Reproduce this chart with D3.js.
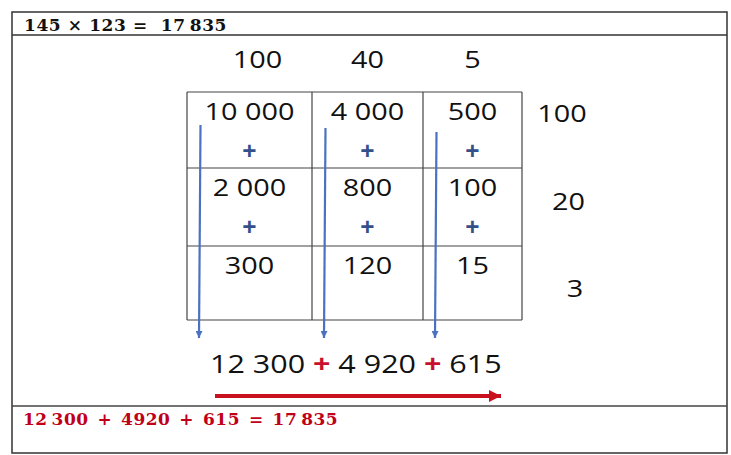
<!DOCTYPE html>
<html>
<head>
<meta charset="utf-8">
<title>145 x 123</title>
<script src="https://d3js.org/d3.v7.min.js"></script>
<style>
  body { margin: 0; background: #fff; }
</style>
</head>
<body>
<svg width="731" height="455"></svg>
<script>
// values
const colFactors = [100, 40, 5];
const rowFactors = [100, 20, 3];
const partials = [
  [10000, 4000, 500],
  [2000, 800, 100],
  [300, 120, 15]
];
const columnSums = [12300, 4920, 615];
const headerText = "145 \u00d7 123 =  17\u2009835";
const footerText = "12\u2009300 + 4920 + 615 = 17\u2009835";

const svg = d3.select("svg");

// numbers with a space as thousands separator
const fmt = d3.formatLocale({decimal: ",", thousands: "\u00a0", grouping: [3], currency: ["", ""]}).format(",d");

// grid edges (piecewise linear scales)
const x = d3.scaleLinear().domain([0, 1, 2, 3]).range([187, 312, 423, 522]);
const y = d3.scaleLinear().domain([0, 1, 2, 3]).range([92, 168, 246, 320]);
// row factor labels sit at the right of the grid
const rx = d3.scaleLinear().domain([0, 2]).range([562, 575]);
const ry = d3.scaleLinear().domain([0, 2]).range([122, 297]);

const stretch = 1.2;
function numText(g, tx, ty, txt, color) {
  g.append("text")
    .attr("transform", `translate(${tx},${ty}) scale(${stretch},1)`)
    .attr("text-anchor", "middle")
    .attr("font-family", "'Open Sans', sans-serif")
    .attr("font-size", 24)
    .attr("fill", color || "#111")
    .text(txt);
}

// outer frame
svg.append("rect").attr("x", 12).attr("y", 12).attr("width", 715).attr("height", 441)
  .attr("fill", "none").attr("stroke", "#333").attr("stroke-width", 1.5);
svg.append("line").attr("x1", 12).attr("x2", 727).attr("y1", 35).attr("y2", 35)
  .attr("stroke", "#333").attr("stroke-width", 1.5);
svg.append("line").attr("x1", 12).attr("x2", 727).attr("y1", 406).attr("y2", 406)
  .attr("stroke", "#444").attr("stroke-width", 1.5);

// header and footer
svg.append("text").attr("x", 24).attr("y", 31)
  .attr("font-family", "'DejaVu Serif', serif").attr("font-weight", "bold")
  .attr("font-size", 17).attr("letter-spacing", 0.6).attr("fill", "#111").attr("xml:space", "preserve")
  .text(headerText);
svg.append("text").attr("x", 23).attr("y", 425)
  .attr("font-family", "'DejaVu Serif', serif").attr("font-weight", "bold")
  .attr("font-size", 17).attr("letter-spacing", 0.5).attr("word-spacing", 2.5)
  .attr("fill", "#c00018").attr("xml:space", "preserve")
  .text(footerText);

// grid
const grid = svg.append("g").attr("stroke", "#444").attr("stroke-width", 1.2);
grid.selectAll("line.v").data(d3.range(4)).join("line")
  .attr("x1", d => x(d)).attr("x2", d => x(d)).attr("y1", y(0)).attr("y2", y(3));
grid.selectAll("line.h").data(d3.range(4)).join("line")
  .attr("y1", d => y(d)).attr("y2", d => y(d)).attr("x1", x(0)).attr("x2", x(3));

const cx = i => (x(i) + x(i + 1)) / 2;

// column factors on top
const topRow = svg.append("g");
colFactors.forEach((v, i) => numText(topRow, cx(i) + (i === 0 ? 8 : 0), 68, fmt(v)));

// row factors on the right
const rightCol = svg.append("g");
rowFactors.forEach((v, i) => numText(rightCol, rx(i), ry(i), fmt(v)));

// partial products and plus signs
const cells = svg.append("g");
partials.forEach((row, r) => {
  row.forEach((v, c) => {
    numText(cells, cx(c), y(r) + 28, fmt(v));
    if (r < partials.length - 1) {
      cells.append("text")
        .attr("x", cx(c)).attr("y", y(r) + 68)
        .attr("text-anchor", "middle")
        .attr("font-family", "'Open Sans', sans-serif")
        .attr("font-weight", "bold")
        .attr("font-size", 25)
        .attr("fill", "#34508a")
        .text("+");
    }
  });
});

// blue arrows down each column
const defs = svg.append("defs");
defs.append("marker").attr("id", "blueHead").attr("viewBox", "0 0 10 10")
  .attr("refX", 10).attr("refY", 5).attr("markerWidth", 7).attr("markerHeight", 7)
  .attr("orient", "auto").attr("markerUnits", "userSpaceOnUse")
  .append("path").attr("d", "M0,0L10,5L0,10Z").attr("fill", "#4a72c0");
defs.append("marker").attr("id", "redHead").attr("viewBox", "0 0 10 10")
  .attr("refX", 10).attr("refY", 5).attr("markerWidth", 12).attr("markerHeight", 12)
  .attr("orient", "auto").attr("markerUnits", "userSpaceOnUse")
  .append("path").attr("d", "M0,0L10,5L0,10Z").attr("fill", "#c8101e");

const arrowTop = [125, 128, 132];
svg.append("g").selectAll("line").data(colFactors).join("line")
  .attr("x1", (d, i) => x(i) + 13.5).attr("x2", (d, i) => x(i) + 12)
  .attr("y1", (d, i) => arrowTop[i]).attr("y2", 338)
  .attr("stroke", "#4a72c0").attr("stroke-width", 2.2)
  .attr("marker-end", "url(#blueHead)");

// sum line: 12 300 + 4 920 + 615
const sumText = svg.append("text")
  .attr("transform", "translate(210,373) scale(1.22,1)")
  .attr("font-family", "'Open Sans', sans-serif")
  .attr("font-size", 25).attr("fill", "#111");
columnSums.forEach((v, i) => {
  if (i > 0) {
    sumText.append("tspan").attr("fill", "#c8102e").attr("font-weight", "bold").text(" + ");
  }
  sumText.append("tspan").text(fmt(v));
});

// red arrow
svg.append("line").attr("x1", 215).attr("x2", 501).attr("y1", 396).attr("y2", 396)
  .attr("stroke", "#c8101e").attr("stroke-width", 4)
  .attr("marker-end", "url(#redHead)");
</script>
</body>
</html>
